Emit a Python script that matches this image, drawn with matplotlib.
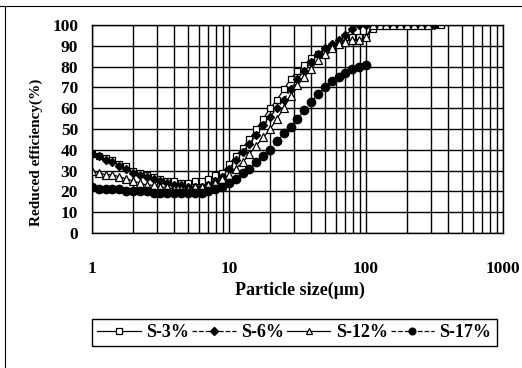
import matplotlib
matplotlib.use("Agg")
import matplotlib.pyplot as plt
from matplotlib.lines import Line2D

plt.rcParams['font.family'] = ['Liberation Serif', 'DejaVu Serif']
plt.rcParams['font.weight'] = 'bold'

# particle size bins (um)
sizes = [1.00, 1.12, 1.26, 1.41, 1.58, 1.78, 2.00, 2.24, 2.51, 2.82,
         3.16, 3.55, 3.98, 4.47, 5.01, 5.62, 6.31, 7.08, 7.94, 8.91,
         10.0, 11.2, 12.6, 14.1, 15.8, 17.8, 20.0, 22.4, 25.1, 28.2,
         31.6, 35.5, 39.8, 44.7, 50.1, 56.2, 63.1, 70.8, 79.4, 89.1,
         100, 112, 126, 141, 158, 178, 200, 224, 251, 282,
         316, 355]

s3 = [38, 37, 36, 35, 33, 32, 30, 29, 28, 27,
      26, 25, 25, 24, 24, 25, 25, 26, 28, 29,
      33, 37, 41, 45, 50, 55, 60, 64, 69, 74,
      78, 81, 84, 86, 88, 90, 92, 94, 94, 94,
      94, 98, 100, 100, 100, 100, 100, 100, 100, 100,
      100, 100]

s6 = [38, 37, 35, 34, 32, 31, 29, 28, 27, 26,
      25, 24, 23, 23, 22, 22, 22, 23, 25, 27,
      31, 35, 39, 43, 47, 52, 56, 60, 64, 69,
      74, 78, 82, 86, 89, 91, 93, 95, 98, 100,
      100, 100, 100, 100, 100, 100, 100, 100, 100, 100,
      100]

s12 = [30, 29, 28, 28, 27, 26, 25, 24, 23, 23,
       22, 22, 21, 21, 21, 22, 22, 23, 24, 26,
       28, 31, 34, 38, 42, 46, 50, 55, 60, 66,
       71, 75, 79, 83, 86, 89, 91, 92, 93, 93,
       94, 100, 100, 100, 100, 100, 100, 100, 100, 100]

s17 = [22, 21, 21, 21, 21, 20, 20, 20, 20, 19,
       19, 19, 19, 19, 19, 19, 19, 20, 21, 22,
       24, 26, 29, 31, 34, 37, 40, 44, 48, 51,
       55, 59, 63, 67, 70, 73, 75, 77, 79, 80,
       81]

labels = ['S-3%', 'S-6%', 'S-12%', 'S-17%']

fig = plt.figure(figsize=(5.22, 3.68), dpi=100)
ax = fig.add_axes([92 / 522, 1 - 233 / 368, 411 / 522, 208 / 368])

ax.plot(sizes[:len(s3)], s3, '-', color='black', lw=0.9, marker='s', ms=5,
        mfc='white', mec='black', mew=0.9, label=labels[0])
ax.plot(sizes[:len(s6)], s6, '--', color='black', lw=0.9, marker='D', ms=4.5,
        mfc='black', mec='black', label=labels[1])
ax.plot(sizes[:len(s12)], s12, '-', color='black', lw=0.9, marker='^', ms=5.5,
        mfc='white', mec='black', mew=0.9, label=labels[2])
ax.plot(sizes[:len(s17)], s17, '--', color='black', lw=0.9, marker='o', ms=6,
        mfc='black', mec='black', label=labels[3])

ax.set_xscale('log')
ax.set_xlim(1, 1000)
ax.set_ylim(0, 100)
ax.set_yticks(range(0, 101, 10))
ax.set_xticks([1, 10, 100, 1000])
ax.set_xticklabels(['1', '10', '100', '1000'])
ax.grid(True, which='both', color='black', lw=1.0)
ax.set_axisbelow(True)
ax.tick_params(axis='both', which='both', length=0, labelsize=12.5)
ax.tick_params(axis='x', pad=20)
ax.tick_params(axis='y', pad=10)
for sp in ax.spines.values():
    sp.set_color('black')
    sp.set_linewidth(1.0)

fig.text(300 / 522, 1 - 290 / 368, 'Particle size(\u03bcm)', ha='center', va='center',
         fontsize=13, fontweight='bold')
fig.text(36 / 522, 1 - 152 / 368, 'Reduced efficiency(%)', ha='center', va='center',
         rotation=90, fontsize=11, fontweight='bold')

leg = fig.legend(loc='center', bbox_to_anchor=(83 / 522, 1 - 347 / 368, 423 / 522, 29 / 368),
                 mode='expand', ncol=4, fancybox=False, edgecolor='black', framealpha=1,
                 fontsize=13, handlelength=2.4, columnspacing=0.5, handletextpad=0.3,
                 borderpad=0.3, markerscale=0.8)
leg.get_frame().set_linewidth(1.0)

# page frame lines from the scan
fig.add_artist(Line2D([0, 1], [1 - 6 / 368, 1 - 6 / 368], transform=fig.transFigure,
                      color='black', lw=0.8))
fig.add_artist(Line2D([5 / 522, 5 / 522], [0, 1 - 6 / 368], transform=fig.transFigure,
                      color='black', lw=0.8))

fig.savefig('out.png', dpi=100)
